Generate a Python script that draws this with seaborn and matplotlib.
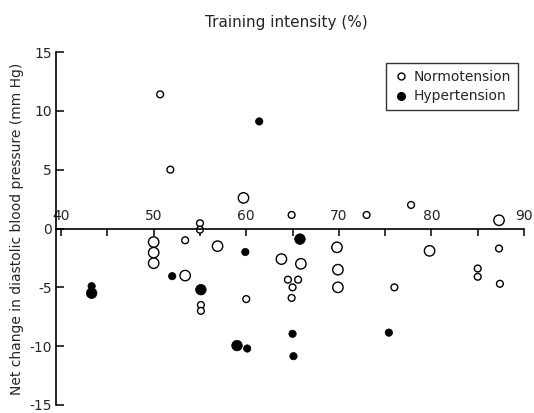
import matplotlib
matplotlib.use("Agg")
import matplotlib.pyplot as plt
from matplotlib.lines import Line2D
import seaborn as sns
import pandas as pd

# ---- data ----
normo_x = [50.7, 51.8, 59.7, 55.0, 55.0, 50.0, 50.0, 50.0, 53.4, 56.9, 53.4, 55.1, 55.1,
           60.0, 64.9, 73.0, 77.8, 87.3, 79.8, 87.3, 85.0, 85.0, 87.4, 76.0, 63.8, 65.9,
           64.5, 65.6, 65.0, 64.9, 69.8, 69.9, 69.9]
normo_y = [11.4, 5.0, 2.6, 0.45, -0.1, -1.15, -2.05, -2.95, -1.0, -1.5, -4.0, -6.5, -7.0,
           -6.0, 1.15, 1.15, 2.0, 0.7, -1.9, -1.7, -3.4, -4.1, -4.7, -5.0, -2.6, -3.0,
           -4.35, -4.35, -5.0, -5.9, -1.6, -3.5, -5.0]
normo_size = ["small", "small", "large", "small", "small", "large", "large", "large", "small",
              "large", "large", "small", "small", "small", "small", "small", "small", "large",
              "large", "small", "small", "small", "small", "small", "large", "large", "small",
              "small", "small", "small", "large", "large", "large"]

hyper_x = [61.4, 59.9, 52.0, 55.1, 43.3, 43.3, 59.0, 60.1, 65.8, 65.0, 65.1, 75.4]
hyper_y = [9.1, -2.0, -4.05, -5.2, -4.9, -5.5, -9.95, -10.2, -0.9, -8.95, -10.85, -8.85]
hyper_size = ["small", "small", "small", "large", "small", "large", "large", "small",
              "large", "small", "small", "small"]

x_ticks = [40, 45, 50, 55, 60, 65, 70, 75, 80, 85, 90]
x_tick_labels = ["40", "", "50", "", "60", "", "70", "", "80", "", "90"]
y_ticks = [15, 10, 5, 0, -5, -10, -15]

normo = pd.DataFrame({"x": normo_x, "y": normo_y, "sz": normo_size})
hyper = pd.DataFrame({"x": hyper_x, "y": hyper_y, "sz": hyper_size})

sns.set_style("white")
plt.rcParams["font.family"] = ["DejaVu Sans"]
plt.rcParams["axes.unicode_minus"] = False

fig = plt.figure(figsize=(5.34, 4.13), dpi=100)
ax = fig.add_axes([56 / 534, 1 - 405 / 413, 468 / 534, 353 / 413])

sns.scatterplot(data=normo, x="x", y="y", size="sz", sizes={"small": 24, "large": 56},
                facecolor="white", edgecolor="black", linewidth=1.0, legend=False, ax=ax)
sns.scatterplot(data=hyper, x="x", y="y", size="sz", sizes={"small": 28, "large": 58},
                color="black", edgecolor="black", linewidth=0.5, legend=False, ax=ax)

ax.set_xlim(39.45, 90)
ax.set_ylim(-15, 15)

for s in ["top", "right"]:
    ax.spines[s].set_visible(False)
ax.spines["bottom"].set_position(("data", 0))
ax.spines["left"].set_bounds(-15, 15)
for s in ["left", "bottom"]:
    ax.spines[s].set_color("black")
    ax.spines[s].set_linewidth(1.2)

ax.set_xticks(x_ticks)
ax.set_xticklabels(x_tick_labels)
ax.set_yticks(y_ticks)
ax.set_yticklabels([str(v) for v in y_ticks])
ax.tick_params(axis="x", bottom=True, direction="out", length=5, width=1.1, color="black",
               pad=-19, labelsize=10)
ax.tick_params(axis="y", left=True, direction="in", length=6, width=1.1, color="black",
               pad=3, labelsize=10)

ax.set_xlabel("")
ax.set_ylabel("Net change in diastolic blood pressure (mm Hg)", fontsize=10, labelpad=4)
fig.text(0.536, 0.945, "Training intensity (%)", ha="center", va="center", fontsize=11)

handles = [
    Line2D([], [], marker="o", linestyle="", markerfacecolor="white",
           markeredgecolor="black", markersize=5, markeredgewidth=1),
    Line2D([], [], marker="o", linestyle="", markerfacecolor="black",
           markeredgecolor="black", markersize=5.5),
]
leg = ax.legend(handles, ["Normotension", "Hypertension"], loc="upper right",
                bbox_to_anchor=(0.987, 0.969), borderaxespad=0, frameon=True,
                fancybox=False, fontsize=10, handletextpad=0.3, handlelength=1.2,
                borderpad=0.5, labelspacing=0.4)
leg.get_frame().set_edgecolor("black")
leg.get_frame().set_linewidth(1.0)

fig.savefig("out.png", dpi=100)
